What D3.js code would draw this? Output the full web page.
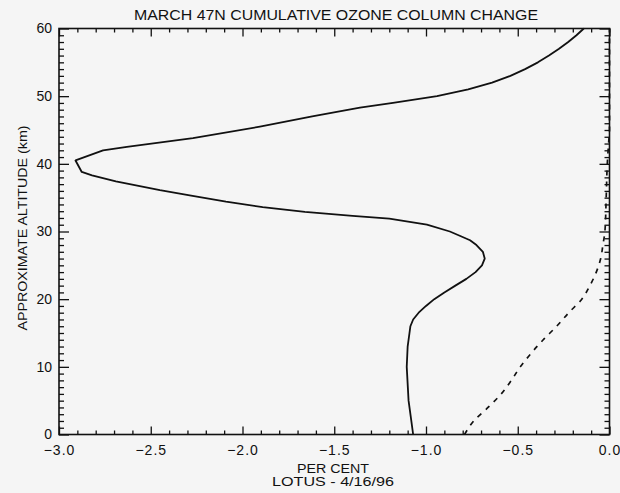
<!DOCTYPE html>
<html>
<head>
<meta charset="utf-8">
<script src="https://cdn.jsdelivr.net/npm/d3@7"></script>
<style>
  body { margin: 0; background: #f5f5f5; }
  text { font-family: "Liberation Sans", Arial, sans-serif; fill: #111; }
</style>
</head>
<body>
<div id="chart"></div>
<script>
// solid curve: cumulative ozone column change (%) vs altitude (km)
var altitude  = [0, 2, 5, 10, 13, 15, 16, 17, 18, 19, 20, 21, 22, 23, 24, 25, 26, 27, 28, 28.7, 29.3, 30, 31, 31.9, 32.3, 32.9, 33.6, 34.4, 35.3, 36.1, 37.4, 38.3, 38.8, 40.5, 42, 42.5, 43.8, 45.5, 47, 48.3, 49, 50, 51, 52, 53, 54, 55, 56, 57, 58, 59, 60];
var cumChange = [-1.07, -1.08, -1.095, -1.105, -1.10, -1.09, -1.085, -1.07, -1.04, -1.00, -0.955, -0.90, -0.84, -0.78, -0.73, -0.695, -0.68, -0.69, -0.725, -0.76, -0.81, -0.87, -0.995, -1.20, -1.40, -1.66, -1.89, -2.09, -2.28, -2.45, -2.69, -2.82, -2.876, -2.91, -2.76, -2.63, -2.27, -1.905, -1.62, -1.36, -1.18, -0.94, -0.77, -0.64, -0.54, -0.46, -0.39, -0.33, -0.275, -0.225, -0.18, -0.14];

// dashed curve
var dashAltitude = [0, 2, 4, 6, 8, 10, 12, 14, 16, 18, 20, 22, 24, 26, 28, 30, 35, 40, 43, 45, 60];
var dashChange   = [-0.79, -0.74, -0.662, -0.59, -0.535, -0.486, -0.427, -0.361, -0.288, -0.222, -0.151, -0.107, -0.072, -0.048, -0.036, -0.025, -0.018, -0.012, -0.005, 0, 0];

var xMajor = [-3.0, -2.5, -2.0, -1.5, -1.0, -0.5, 0.0];
var xLabels = ["\u22123.0", "\u22122.5", "\u22122.0", "\u22121.5", "\u22121.0", "\u22120.5", "0.0"];
var yMajor = [0, 10, 20, 30, 40, 50, 60];

var width = 620, height = 493;
var margin = {top: 28.5, right: 10.5, bottom: 58.5, left: 59};
var w = width - margin.left - margin.right,
    h = height - margin.top - margin.bottom;

var svg = d3.select("#chart").append("svg")
    .attr("width", width).attr("height", height);

svg.append("rect").attr("width", width).attr("height", height).style("fill", "#f5f5f5");

var g = svg.append("g").attr("transform", "translate(" + margin.left + "," + margin.top + ")");

var x = d3.scaleLinear().domain([-3, 0]).range([0, w]);
var y = d3.scaleLinear().domain([0, 60]).range([h, 0]);

var xMinor = d3.range(-30, 1).map(function(d) { return d / 10; }).filter(function(d) { return Math.abs(d * 2 - Math.round(d * 2)) > 1e-6; });
var yMinor = d3.range(0, 61).filter(function(d) { return d % 10 != 0; });

function styleAxis(sel) {
  sel.select(".domain").remove();
  sel.selectAll("line").style("stroke", "#111").style("stroke-width", "1.3px");
  sel.selectAll("text").style("font-size", "14px").style("fill", "#111").style("font-family", "Liberation Sans, Arial, sans-serif");
}

// bottom axis with labels (ticks inward)
g.append("g").attr("transform", "translate(0," + h + ")")
  .call(d3.axisBottom(x).tickValues(xMajor).tickSize(-8).tickPadding(11)
    .tickFormat(function(d, i) { return xLabels[i]; }))
  .call(styleAxis)
  .selectAll("text").style("letter-spacing", "1px");
g.append("g").attr("transform", "translate(0," + h + ")")
  .call(d3.axisBottom(x).tickValues(xMinor).tickSize(-4).tickFormat(""))
  .call(styleAxis);

// top axis
g.append("g")
  .call(d3.axisTop(x).tickValues(xMajor).tickSize(-8).tickFormat(""))
  .call(styleAxis);
g.append("g")
  .call(d3.axisTop(x).tickValues(xMinor).tickSize(-4).tickFormat(""))
  .call(styleAxis);

// left axis
g.append("g")
  .call(d3.axisLeft(y).tickValues(yMajor).tickSize(-10).tickPadding(7).tickFormat(d3.format("d")))
  .call(styleAxis);
g.append("g")
  .call(d3.axisLeft(y).tickValues(yMinor).tickSize(-5).tickFormat(""))
  .call(styleAxis);

// right axis
g.append("g").attr("transform", "translate(" + w + ",0)")
  .call(d3.axisRight(y).tickValues(yMajor).tickSize(-10).tickFormat(""))
  .call(styleAxis);
g.append("g").attr("transform", "translate(" + w + ",0)")
  .call(d3.axisRight(y).tickValues(yMinor).tickSize(-5).tickFormat(""))
  .call(styleAxis);

// frame
g.append("rect").attr("width", w).attr("height", h)
  .style("fill", "none").style("stroke", "#111").style("stroke-width", "1.6px");

var solid = altitude.map(function(d, i) { return [cumChange[i], d]; });
var dashed = dashAltitude.map(function(d, i) { return [dashChange[i], d]; });

var line = d3.line().x(function(d) { return x(d[0]); }).y(function(d) { return y(d[1]); });

g.append("path").datum(solid).attr("d", line)
  .style("fill", "none").style("stroke", "#111").style("stroke-width", "1.8px")
  .style("stroke-linejoin", "round");

g.append("path").datum(dashed).attr("d", d3.line().x(function(d) { return x(d[0]); }).y(function(d) { return y(d[1]); }).curve(d3.curveMonotoneY))
  .style("fill", "none").style("stroke", "#111").style("stroke-width", "1.7px")
  .style("stroke-dasharray", "5,6");

// titles
svg.append("text").attr("x", 336).attr("y", 20).attr("text-anchor", "middle")
  .attr("textLength", 404).attr("lengthAdjust", "spacingAndGlyphs")
  .style("font-size", "14px").text("MARCH 47N CUMULATIVE OZONE COLUMN CHANGE");

svg.append("text").attr("transform", "translate(27,228) rotate(-90)").attr("text-anchor", "middle")
  .attr("textLength", 205).attr("lengthAdjust", "spacingAndGlyphs")
  .style("font-size", "13px").text("APPROXIMATE ALTITUDE (km)");

svg.append("text").attr("x", 333).attr("y", 473).attr("text-anchor", "middle")
  .attr("textLength", 72).attr("lengthAdjust", "spacingAndGlyphs")
  .style("font-size", "12px").text("PER CENT");
svg.append("text").attr("x", 333).attr("y", 486).attr("text-anchor", "middle")
  .attr("textLength", 122).attr("lengthAdjust", "spacingAndGlyphs")
  .style("font-size", "12px").text("LOTUS - 4/16/96");
</script>
</body>
</html>
